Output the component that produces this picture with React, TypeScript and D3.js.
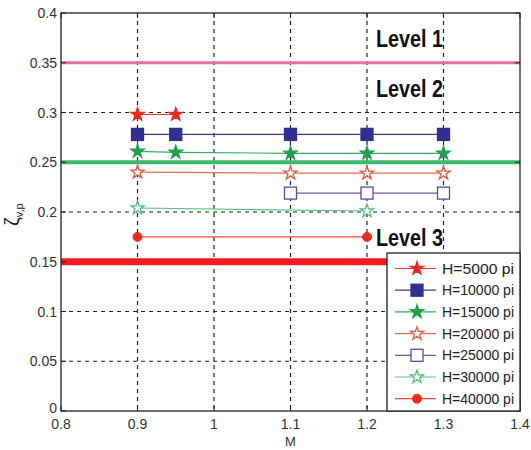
import React from "react";
import * as d3 from "d3";

const xTicks = [0.8, 0.9, 1.0, 1.1, 1.2, 1.3, 1.4];
const xTickLabels = ["0.8", "0.9", "1", "1.1", "1.2", "1.3", "1.4"];
const yTicks = [0, 0.05, 0.1, 0.15, 0.2, 0.25, 0.3, 0.35, 0.4];
const yTickLabels = ["0", "0.05", "0.1", "0.15", "0.2", "0.25", "0.3", "0.35", "0.4"];

const levelValues = [0.35, 0.25, 0.15];
const levelNames = ["Level 1", "Level 2", "Level 3"];

const seriesNames = ["H=5000 pi", "H=10000 pi", "H=15000 pi", "H=20000 pi", "H=25000 pi", "H=30000 pi", "H=40000 pi"];
const seriesX = [
  [0.9, 0.95],
  [0.9, 0.95, 1.1, 1.2, 1.3],
  [0.9, 0.95, 1.1, 1.2, 1.3],
  [0.9, 1.1, 1.2, 1.3],
  [1.1, 1.2, 1.3],
  [0.9, 1.2],
  [0.9, 1.2],
];
const seriesY = [
  [0.298, 0.298],
  [0.278, 0.278, 0.278, 0.278, 0.278],
  [0.261, 0.26, 0.259, 0.259, 0.259],
  [0.24, 0.239, 0.239, 0.239],
  [0.219, 0.219, 0.219],
  [0.204, 0.201],
  [0.175, 0.175],
];

const styles = [
  { line: "#ee3a2a", fill: "#ee2a1e", stroke: "#ee2a1e", shape: "star" },
  { line: "#3a3a9a", fill: "#2e3192", stroke: "#2e3192", shape: "square" },
  { line: "#30b060", fill: "#1ea04a", stroke: "#1ea04a", shape: "star" },
  { line: "#e8704e", fill: "white", stroke: "#e85a40", shape: "star" },
  { line: "#6a5aa8", fill: "white", stroke: "#5a4aa0", shape: "square" },
  { line: "#5cc486", fill: "white", stroke: "#50c07a", shape: "star" },
  { line: "#ee4a30", fill: "#ee2a1e", stroke: "#ee2a1e", shape: "circle" },
];

const levelStyles = [
  { color: "#e070a8", width: 3 },
  { color: "#3cb86c", width: 4 },
  { color: "#ee1c24", width: 7 },
];

const L = 61, R = 520, T = 13, B = 411;

function Marker({ shape, fill, stroke, x, y }: any) {
  if (shape === "star") {
    const p = d3.symbol().type(d3.symbolStar).size(55)();
    return <path d={p || ""} transform={`translate(${x},${y})`} fill={fill} stroke={stroke} strokeWidth={1.3} />;
  }
  if (shape === "square") {
    const s = 12;
    return <rect x={x - s / 2} y={y - s / 2} width={s} height={s} fill={fill} stroke={stroke} strokeWidth={1.3} />;
  }
  return <circle cx={x} cy={y} r={4.5} fill={fill} stroke={stroke} strokeWidth={1} />;
}

export default function App() {
  const x = d3.scaleLinear().domain([0.8, 1.4]).range([L, R]);
  const y = d3.scaleLinear().domain([0, 0.4]).range([B, T]);
  const line = d3.line<[number, number]>().x((d) => x(d[0])).y((d) => y(d[1]));
  const font = "Arial, 'Liberation Sans', sans-serif";

  const legX = 387, legY = 253, legW = R - 387, legH = B - 253;
  const rowY0 = 268.5, rowStep = 21.7;

  return (
    <svg width={531} height={450} style={{ position: "absolute", left: 0, top: 0 }}>
      <rect x={0} y={0} width={531} height={450} fill="white" />
      {xTicks.slice(1, -1).map((t) => (
        <line key={"gx" + t} x1={x(t)} x2={x(t)} y1={T} y2={B} stroke="#222" strokeWidth={1.2} strokeDasharray="4,4" />
      ))}
      {yTicks.slice(1, -1).map((t) => (
        <line key={"gy" + t} x1={L} x2={R} y1={y(t)} y2={y(t)} stroke="#222" strokeWidth={1.2} strokeDasharray="4,4" />
      ))}
      {levelValues.map((v, i) => (
        <line key={"lv" + i} x1={L} x2={R} y1={y(v)} y2={y(v)} stroke={levelStyles[i].color} strokeWidth={levelStyles[i].width} />
      ))}
      {seriesX.map((xs, i) => {
        const pts = xs.map((xv, j) => [xv, seriesY[i][j]] as [number, number]);
        return (
          <g key={"s" + i}>
            <path d={line(pts) || ""} fill="none" stroke={styles[i].line} strokeWidth={1.2} />
            {pts.map((p, j) => (
              <Marker key={j} shape={styles[i].shape} fill={styles[i].fill} stroke={styles[i].stroke} x={x(p[0])} y={y(p[1])} />
            ))}
          </g>
        );
      })}
      {levelNames.map((n, i) => (
        <text key={"ln" + i} x={376} y={[47, 97, 246][i]} fontFamily={font} fontWeight="bold" fontSize={23}
          textLength={67} lengthAdjust="spacingAndGlyphs" fill="#111">{n}</text>
      ))}
      <rect x={L} y={T} width={R - L} height={B - T} fill="none" stroke="#222" strokeWidth={1.3} />
      {xTicks.map((t) => (
        <g key={"tx" + t}>
          <line x1={x(t)} x2={x(t)} y1={B} y2={B - 5} stroke="#222" />
          <line x1={x(t)} x2={x(t)} y1={T} y2={T + 5} stroke="#222" />
        </g>
      ))}
      {yTicks.map((t) => (
        <g key={"ty" + t}>
          <line x1={L} x2={L + 5} y1={y(t)} y2={y(t)} stroke="#222" />
          <line x1={R} x2={R - 5} y1={y(t)} y2={y(t)} stroke="#222" />
        </g>
      ))}
      {xTicks.map((t, i) => (
        <text key={"xl" + t} x={x(t)} y={429} textAnchor="middle" fontFamily={font} fontSize={14} fill="#333">{xTickLabels[i]}</text>
      ))}
      {yTicks.map((t, i) => (
        <text key={"yl" + t} x={57} y={y(t) + (i === 0 ? 2 : 5)} textAnchor="end" fontFamily={font} fontSize={14} fill="#333">{yTickLabels[i]}</text>
      ))}
      <text x={(L + R) / 2} y={446} textAnchor="middle" fontFamily={font} fontSize={13} fill="#333">M</text>
      <g transform="translate(19,226) rotate(-90)">
        <text x={0} y={0} fontFamily={font} fontSize={20} fill="#222">ζ<tspan fontSize={11} dy={4}>v,p</tspan></text>
      </g>
      <rect x={legX} y={legY} width={legW} height={legH} fill="white" stroke="#222" strokeWidth={1.3} />
      {seriesNames.map((n, i) => {
        const cy = rowY0 + i * rowStep;
        return (
          <g key={"lg" + i}>
            <line x1={395} x2={436} y1={cy} y2={cy} stroke={styles[i].line} strokeWidth={1.2} />
            <Marker shape={styles[i].shape} fill={styles[i].fill} stroke={styles[i].stroke} x={417} y={cy} />
            <text x={442} y={cy + 5} fontFamily={font} fontSize={14} fill="#222" textLength={72} lengthAdjust="spacingAndGlyphs">{n}</text>
          </g>
        );
      })}
    </svg>
  );
}
